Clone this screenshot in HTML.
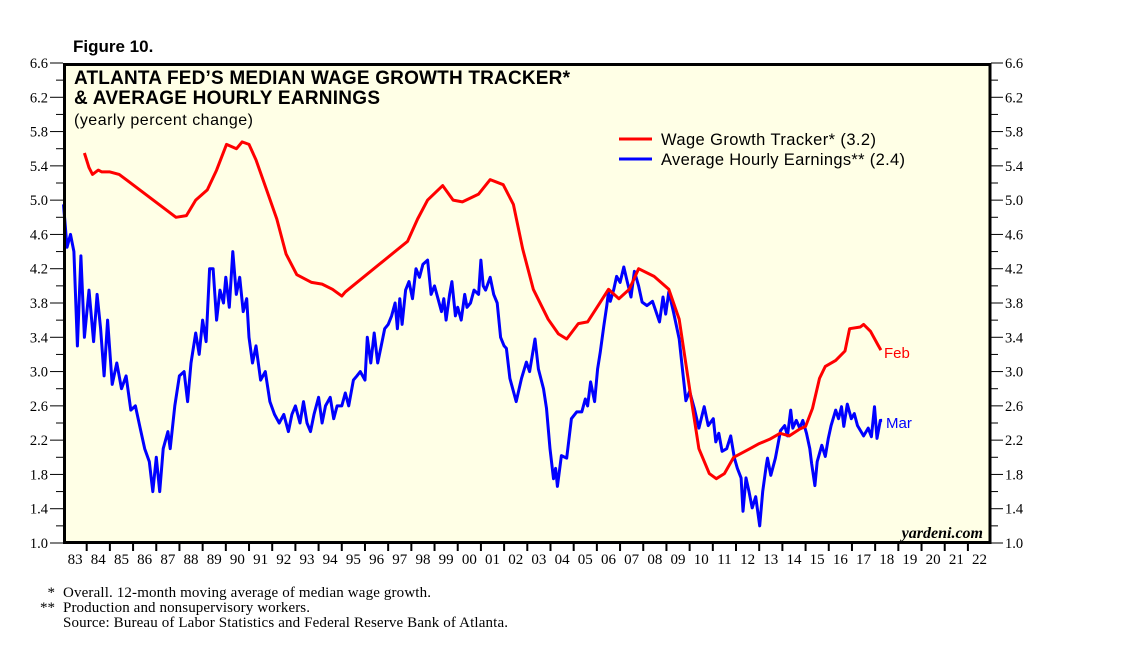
<!DOCTYPE html>
<html><head><meta charset="utf-8"><style>
body{margin:0;background:#fff;}
svg{display:block;}
</style></head><body>
<svg id="chart" width="1138" height="658" xmlns="http://www.w3.org/2000/svg">
<rect x="63" y="63" width="928" height="481" fill="#ffffe6"/>
<text x="73" y="52" font-family="Liberation Sans, sans-serif" font-weight="bold" font-size="17">Figure 10.</text>
<text x="74" y="84" font-family="Liberation Sans, sans-serif" font-weight="bold" font-size="19" textLength="496">ATLANTA FED’S MEDIAN WAGE GROWTH TRACKER*</text>
<text x="74" y="104" font-family="Liberation Sans, sans-serif" font-weight="bold" font-size="19" textLength="306">&amp; AVERAGE HOURLY EARNINGS</text>
<text x="74" y="125" font-family="Liberation Sans, sans-serif" font-size="16" textLength="179">(yearly percent change)</text>
<g id="axes"></g>
<g id="series"></g>
<line x1="619" y1="139" x2="652" y2="139" stroke="#ff0000" stroke-width="3"/>
<text x="661" y="145" font-family="Liberation Sans, sans-serif" font-size="16.5" textLength="215">Wage Growth Tracker* (3.2)</text>
<line x1="619" y1="159" x2="652" y2="159" stroke="#0000ff" stroke-width="3"/>
<text x="661" y="165" font-family="Liberation Sans, sans-serif" font-size="16.5" textLength="244">Average Hourly Earnings** (2.4)</text>
<text x="884" y="358" fill="#ff0000" font-family="Liberation Sans, sans-serif" font-size="15">Feb</text>
<text x="886" y="428" fill="#0000ff" font-family="Liberation Sans, sans-serif" font-size="15">Mar</text>
<text x="983" y="538" text-anchor="end" font-family="Liberation Serif, serif" font-style="italic" font-weight="bold" font-size="16">yardeni.com</text>
<rect x="64.5" y="64.5" width="925.5" height="478" fill="none" stroke="#000" stroke-width="3"/>
<g font-family="Liberation Serif, serif" font-size="15">
<text x="55" y="597" text-anchor="end">*</text><text x="63" y="597" textLength="368">Overall. 12-month moving average of median wage growth.</text>
<text x="55" y="612" text-anchor="end">**</text><text x="63" y="612" textLength="247">Production and nonsupervisory workers.</text>
<text x="63" y="627" textLength="445">Source: Bureau of Labor Statistics and Federal Reserve Bank of Atlanta.</text>
</g>
</svg>
<script>
const yTicks=[1.0,1.4,1.8,2.2,2.6,3.0,3.4,3.8,4.2,4.6,5.0,5.4,5.8,6.2,6.6];
const yearLabels=["83","84","85","86","87","88","89","90","91","92","93","94","95","96","97","98","99","00","01","02","03","04","05","06","07","08","09","10","11","12","13","14","15","16","17","18","19","20","21","22"];
const wageYears=[1983.9,1984.1,1984.25,1984.5,1984.65,1985.0,1985.4,1987.85,1988.3,1988.7,1989.2,1989.6,1990.03,1990.46,1990.7,1991.0,1991.3,1991.76,1992.2,1992.6,1993.06,1993.7,1994.15,1994.6,1995.0,1995.15,1997.84,1998.27,1998.7,1999.35,1999.8,2000.2,2000.9,2001.4,2001.96,2002.4,2002.8,2003.26,2003.9,2004.34,2004.7,2005.2,2005.6,2006.1,2006.5,2006.95,2007.4,2007.8,2008.47,2009.1,2009.55,2010.0,2010.4,2010.85,2011.15,2011.5,2011.9,2012.6,2013.0,2013.45,2013.9,2014.3,2014.75,2015.0,2015.3,2015.6,2015.85,2016.3,2016.7,2016.9,2017.36,2017.5,2017.8,2018.1,2018.25];
const wageValues=[5.55,5.38,5.3,5.35,5.33,5.33,5.3,4.8,4.82,5.0,5.12,5.35,5.65,5.6,5.68,5.65,5.47,5.12,4.78,4.37,4.13,4.04,4.02,3.96,3.88,3.93,4.52,4.78,5.0,5.17,5.0,4.98,5.07,5.24,5.18,4.95,4.43,3.96,3.61,3.44,3.38,3.56,3.58,3.79,3.96,3.85,3.96,4.2,4.11,3.96,3.61,2.8,2.1,1.81,1.75,1.81,2.0,2.1,2.16,2.21,2.28,2.25,2.33,2.36,2.57,2.92,3.06,3.13,3.24,3.5,3.52,3.55,3.47,3.32,3.25];
const ahYears=[1983.0,1983.15,1983.3,1983.45,1983.6,1983.75,1983.9,1984.1,1984.3,1984.45,1984.6,1984.75,1984.9,1985.1,1985.3,1985.5,1985.7,1985.9,1986.1,1986.3,1986.5,1986.7,1986.85,1987.0,1987.15,1987.3,1987.5,1987.6,1987.8,1988.0,1988.2,1988.35,1988.5,1988.7,1988.85,1989.0,1989.15,1989.3,1989.45,1989.6,1989.75,1989.9,1990.0,1990.15,1990.3,1990.45,1990.6,1990.75,1990.9,1991.0,1991.15,1991.3,1991.5,1991.7,1991.9,1992.1,1992.3,1992.5,1992.7,1992.85,1993.0,1993.2,1993.35,1993.5,1993.65,1993.8,1994.0,1994.15,1994.3,1994.5,1994.65,1994.8,1995.0,1995.15,1995.3,1995.5,1995.65,1995.8,1996.0,1996.1,1996.25,1996.4,1996.55,1996.7,1996.85,1997.0,1997.15,1997.3,1997.4,1997.5,1997.6,1997.75,1997.9,1998.05,1998.2,1998.35,1998.5,1998.7,1998.85,1999.0,1999.15,1999.3,1999.4,1999.5,1999.65,1999.75,1999.9,2000.0,2000.15,2000.3,2000.4,2000.55,2000.7,2000.9,2001.0,2001.1,2001.2,2001.4,2001.55,2001.7,2001.85,2002.0,2002.1,2002.25,2002.52,2002.75,2002.96,2003.1,2003.33,2003.48,2003.7,2003.83,2003.98,2004.13,2004.22,2004.3,2004.47,2004.7,2004.9,2005.13,2005.35,2005.5,2005.6,2005.73,2005.9,2006.03,2006.15,2006.3,2006.43,2006.5,2006.58,2006.73,2006.85,2007.0,2007.16,2007.3,2007.47,2007.62,2007.8,2007.95,2008.16,2008.4,2008.7,2008.85,2008.97,2009.1,2009.3,2009.55,2009.7,2009.84,2010.0,2010.2,2010.4,2010.63,2010.8,2011.02,2011.13,2011.26,2011.4,2011.6,2011.77,2011.93,2012.06,2012.22,2012.3,2012.43,2012.56,2012.7,2012.85,2013.02,2013.15,2013.3,2013.36,2013.5,2013.7,2013.8,2013.92,2014.1,2014.22,2014.36,2014.45,2014.6,2014.75,2014.88,2015.04,2015.18,2015.26,2015.4,2015.5,2015.7,2015.85,2015.98,2016.1,2016.3,2016.42,2016.55,2016.65,2016.8,2016.97,2017.1,2017.24,2017.5,2017.7,2017.84,2017.97,2018.08,2018.22,2018.3];
const ahValues=[4.95,4.45,4.6,4.4,3.3,4.35,3.4,3.95,3.35,3.9,3.5,2.95,3.6,2.85,3.1,2.8,2.95,2.55,2.6,2.35,2.1,1.95,1.6,2.0,1.6,2.1,2.3,2.1,2.6,2.95,3.0,2.65,3.1,3.45,3.2,3.6,3.35,4.2,4.2,3.6,3.95,3.8,4.1,3.75,4.4,3.9,4.1,3.7,3.85,3.4,3.1,3.3,2.9,3.0,2.65,2.5,2.4,2.5,2.3,2.5,2.6,2.4,2.65,2.4,2.3,2.5,2.7,2.4,2.6,2.7,2.45,2.6,2.6,2.75,2.6,2.9,2.95,3.0,2.9,3.4,3.1,3.45,3.1,3.3,3.5,3.55,3.65,3.8,3.5,3.85,3.55,3.95,4.05,3.85,4.2,4.1,4.25,4.3,3.9,4.0,3.85,3.7,3.85,3.6,3.9,4.05,3.65,3.75,3.6,3.9,3.75,3.8,3.95,3.9,4.3,4.0,3.95,4.1,3.9,3.8,3.4,3.3,3.27,2.92,2.65,2.92,3.11,3.0,3.38,3.03,2.8,2.57,2.1,1.75,1.87,1.66,2.02,1.99,2.45,2.53,2.53,2.68,2.6,2.88,2.65,3.03,3.23,3.53,3.77,3.93,3.82,3.96,4.11,4.04,4.22,4.06,3.87,4.17,4.0,3.81,3.77,3.82,3.58,3.87,3.67,3.93,3.7,3.38,3.0,2.66,2.77,2.57,2.34,2.59,2.37,2.45,2.18,2.28,2.07,2.1,2.25,1.99,1.87,1.76,1.37,1.76,1.6,1.41,1.54,1.2,1.6,1.9,1.99,1.79,1.99,2.14,2.31,2.37,2.25,2.55,2.34,2.43,2.34,2.43,2.28,2.1,1.93,1.67,1.95,2.14,2.01,2.22,2.37,2.55,2.45,2.59,2.36,2.62,2.45,2.51,2.37,2.25,2.34,2.24,2.59,2.22,2.43,2.43];

const NS='http://www.w3.org/2000/svg';
const X0=63.5,YW=23.19,YT=63,YB=543,VMIN=1.0,VMAX=6.6;
function xs(yr){return X0+(yr-1983)*YW;}
function ys(v){return YB-(v-VMIN)/(VMAX-VMIN)*(YB-YT);}
function mk(tag,attrs,parent){const e=document.createElementNS(NS,tag);for(const k in attrs)e.setAttribute(k,attrs[k]);parent.appendChild(e);return e;}
const axes=document.getElementById('axes');
for(let v=VMIN;v<=VMAX+0.001;v+=0.2){
  const y=ys(v);const major=Math.abs(((v-1.0)/0.4)-Math.round((v-1.0)/0.4))<0.01;
  const l=mk('line',{x1:major?50:56,x2:63,y1:y,y2:y,stroke:'#000','stroke-width':1},axes);
  
  
  const r=mk('line',{x1:991,x2:major?1003:998,y1:y,y2:y,stroke:'#000','stroke-width':1},axes);
  
  
}
yTicks.forEach(v=>{
  const t=mk('text',{x:48,y:ys(v)+5,'text-anchor':'end','font-family':'Liberation Serif, serif','font-size':14.5},axes);
  t.textContent=v.toFixed(1);
  
  
  const t2=mk('text',{x:1005,y:ys(v)+5,'font-family':'Liberation Serif, serif','font-size':14.5},axes);
  t2.textContent=v.toFixed(1);
  
  
});
yearLabels.forEach((lab,i)=>{
  const x=xs(1983+i);
  if(i>0){const tk=mk('line',{x1:x,x2:x,y1:543,y2:551,stroke:'#000','stroke-width':2},axes);
  
  }
  const t=mk('text',{x:x+YW/2,y:564,'text-anchor':'middle','font-family':'Liberation Serif, serif','font-size':15},axes);
  t.textContent=lab;
  
  
});
const ser=document.getElementById('series');
function line(xv,yv,color,name){
  const d=xv.map((x,i)=>(i?'L':'M')+xs(x).toFixed(1)+' '+ys(yv[i]).toFixed(1)).join(' ');
  const p=mk('path',{d:d,fill:'none',stroke:color,'stroke-width':3,'stroke-linejoin':'round'},ser);
  
  
}
line(ahYears,ahValues,'#0000ff','hourly-earnings-line');
line(wageYears,wageValues,'#ff0000','wage-tracker-line');
</script>
</body></html>
